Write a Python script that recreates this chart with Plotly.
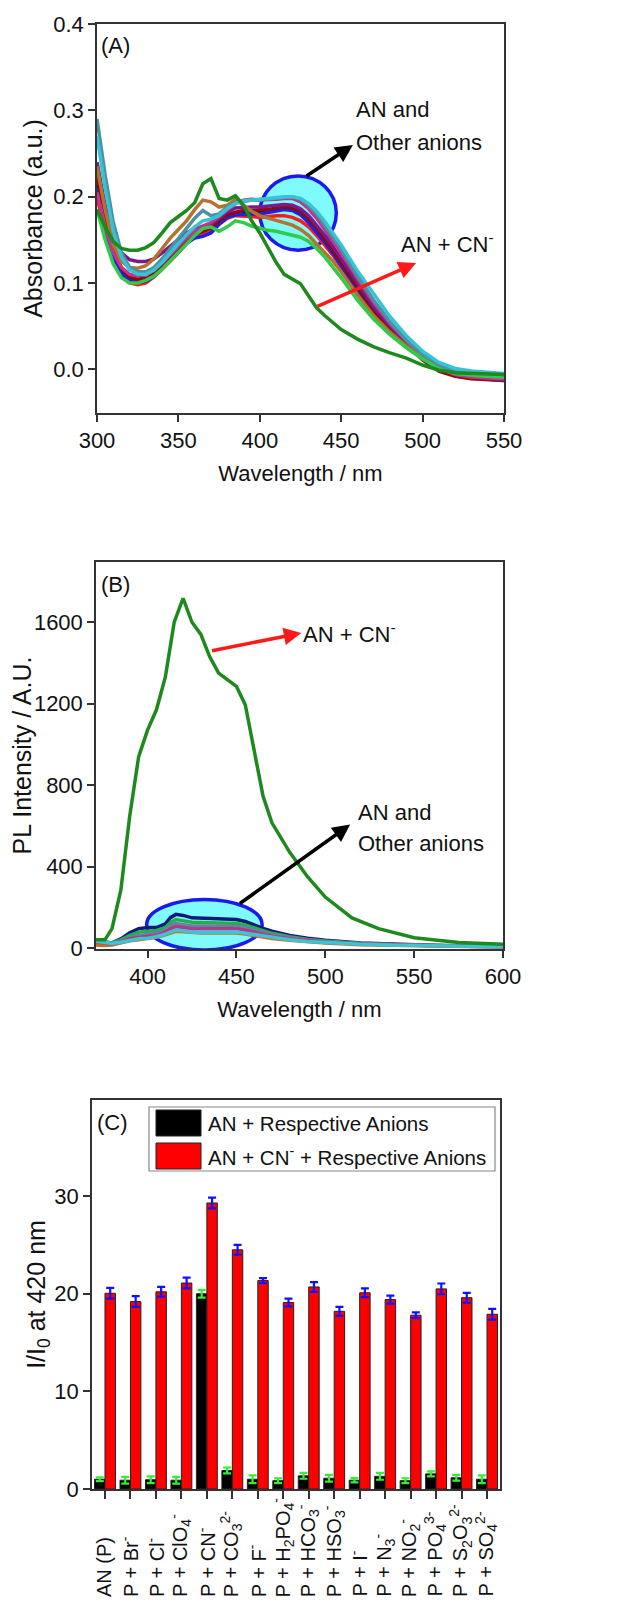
import re
import plotly.graph_objects as go

# page body has an 8px margin: figure drawn at (8, 8) inside the 618x1603 window
OFF = 8
W, H = 618 - OFF, 1603 - OFF
def px(x):
    return (x - OFF) / W
def py(y):
    return 1 - (y - OFF) / H

FONT = "Liberation Sans, Arial, sans-serif"

# ---------------- Panel A : absorbance ----------------
wl_A = [300, 305, 310, 315, 320, 325, 330, 335, 340, 345, 350, 355, 360, 365, 370, 375, 380, 385, 390, 395,
        400, 405, 410, 415, 420, 425, 430, 435, 440, 445, 450, 460, 470, 480, 490, 500, 510, 520, 530, 540, 550]

abs_AN = [0.215, 0.17, 0.135, 0.115, 0.106, 0.104, 0.106, 0.112, 0.12, 0.128, 0.137, 0.147, 0.155, 0.158, 0.162,
          0.17, 0.177, 0.18, 0.181, 0.181, 0.182, 0.184, 0.186, 0.187, 0.186, 0.181, 0.172, 0.16, 0.148, 0.135,
          0.12, 0.092, 0.067, 0.046, 0.029, 0.013, 0.001, -0.006, -0.009, -0.011, -0.012]
abs_Br = [0.2, 0.158, 0.125, 0.108, 0.1, 0.098, 0.1, 0.107, 0.116, 0.125, 0.135, 0.146, 0.153, 0.156, 0.16,
          0.168, 0.175, 0.178, 0.178, 0.177, 0.176, 0.177, 0.178, 0.178, 0.176, 0.172, 0.165, 0.155, 0.144, 0.132,
          0.118, 0.09, 0.065, 0.044, 0.028, 0.012, 0.0, -0.007, -0.01, -0.012, -0.013]
abs_Cl = [0.21, 0.165, 0.13, 0.111, 0.103, 0.101, 0.102, 0.108, 0.117, 0.126, 0.136, 0.146, 0.152, 0.154, 0.158,
          0.168, 0.176, 0.179, 0.18, 0.18, 0.18, 0.182, 0.184, 0.185, 0.184, 0.179, 0.17, 0.159, 0.147, 0.134,
          0.12, 0.092, 0.066, 0.045, 0.029, 0.013, 0.001, -0.006, -0.009, -0.011, -0.012]
abs_ClO4 = [0.225, 0.175, 0.138, 0.117, 0.107, 0.104, 0.105, 0.111, 0.12, 0.129, 0.139, 0.149, 0.156, 0.16, 0.164,
            0.172, 0.179, 0.182, 0.184, 0.184, 0.184, 0.185, 0.187, 0.188, 0.187, 0.183, 0.175, 0.164, 0.151, 0.138,
            0.124, 0.095, 0.068, 0.046, 0.028, 0.011, -0.002, -0.008, -0.011, -0.012, -0.013]
abs_F = [0.24, 0.19, 0.155, 0.135, 0.127, 0.125, 0.125, 0.128, 0.135, 0.143, 0.15, 0.158, 0.163, 0.165, 0.168,
         0.175, 0.182, 0.187, 0.188, 0.188, 0.188, 0.189, 0.19, 0.191, 0.19, 0.186, 0.178, 0.167, 0.155, 0.142,
         0.128, 0.099, 0.072, 0.05, 0.031, 0.014, 0.001, -0.006, -0.009, -0.011, -0.012]
abs_H2PO4 = [0.205, 0.165, 0.135, 0.118, 0.11, 0.108, 0.109, 0.115, 0.123, 0.133, 0.143, 0.152, 0.16, 0.166, 0.17,
             0.177, 0.185, 0.192, 0.196, 0.197, 0.196, 0.196, 0.197, 0.198, 0.198, 0.194, 0.186, 0.175, 0.162, 0.149,
             0.135, 0.105, 0.077, 0.053, 0.033, 0.015, 0.001, -0.006, -0.009, -0.01, -0.011]
abs_CO3 = [0.235, 0.185, 0.145, 0.125, 0.118, 0.117, 0.12, 0.128, 0.14, 0.152, 0.162, 0.172, 0.185, 0.196, 0.194,
           0.188, 0.19, 0.197, 0.19, 0.183, 0.178, 0.175, 0.172, 0.17, 0.167, 0.162, 0.155, 0.145, 0.135, 0.125,
           0.113, 0.086, 0.062, 0.043, 0.027, 0.013, 0.002, -0.004, -0.007, -0.008, -0.009]
abs_I = [0.185, 0.15, 0.122, 0.106, 0.1, 0.1, 0.103, 0.108, 0.116, 0.126, 0.136, 0.146, 0.155, 0.163, 0.165,
         0.16, 0.165, 0.172, 0.17, 0.166, 0.163, 0.161, 0.16, 0.158, 0.156, 0.153, 0.148, 0.14, 0.13, 0.118,
         0.106, 0.08, 0.058, 0.04, 0.025, 0.012, 0.001, -0.005, -0.007, -0.008, -0.009]
abs_HCO3 = [0.29, 0.225, 0.17, 0.135, 0.118, 0.113, 0.113, 0.118, 0.128, 0.14, 0.152, 0.163, 0.175, 0.184, 0.178,
            0.18, 0.188, 0.193, 0.195, 0.196, 0.196, 0.197, 0.198, 0.2, 0.2, 0.197, 0.19, 0.18, 0.167, 0.153,
            0.139, 0.108, 0.08, 0.055, 0.034, 0.017, 0.005, -0.002, -0.004, -0.005, -0.006]
abs_HSO3 = [0.27, 0.21, 0.16, 0.13, 0.115, 0.11, 0.11, 0.115, 0.124, 0.135, 0.146, 0.156, 0.165, 0.172, 0.174,
            0.178, 0.186, 0.192, 0.195, 0.196, 0.197, 0.198, 0.199, 0.2, 0.2, 0.198, 0.192, 0.183, 0.171, 0.158,
            0.144, 0.114, 0.087, 0.061, 0.039, 0.021, 0.008, 0.001, -0.002, -0.003, -0.005]
abs_CN = [0.185, 0.165, 0.148, 0.14, 0.138, 0.138, 0.141, 0.147, 0.158, 0.17, 0.177, 0.184, 0.193, 0.215, 0.221,
          0.198, 0.196, 0.201, 0.19, 0.172, 0.158, 0.14, 0.124, 0.11, 0.104, 0.099, 0.085, 0.071, 0.062, 0.054,
          0.046, 0.035, 0.026, 0.019, 0.013, 0.005, -0.001, -0.004, -0.005, -0.005, -0.006]

A_series = [
    ("AN", abs_AN, "#111111"),
    ("Br", abs_Br, "#ff1a1a"),
    ("Cl", abs_Cl, "#2020e0"),
    ("ClO4", abs_ClO4, "#8b0a0a"),
    ("F", abs_F, "#7a1a8c"),
    ("H2PO4", abs_H2PO4, "#c2348f"),
    ("CO3", abs_CO3, "#b5722e"),
    ("I", abs_I, "#2ecc4a"),
    ("HCO3", abs_HCO3, "#4a92a4"),
    ("HSO3", abs_HSO3, "#36c4d4"),
    ("CN", abs_CN, "#1e8a1e"),
]

# ---------------- Panel B : PL ----------------
wl_B_CN = [370, 376, 380, 385, 390, 395, 400, 405, 410, 415, 420, 425, 430, 435, 440, 450, 455, 465, 470, 480,
           490, 500, 515, 530, 550, 575, 600]
pl_CN = [40, 40, 95, 285, 650, 940, 1070, 1170, 1330, 1600, 1718, 1600, 1540, 1430, 1350, 1285, 1195, 745, 615,
         470, 350, 250, 148, 95, 50, 27, 18]

wl_B = [370, 375, 380, 385, 390, 395, 400, 405, 410, 413, 416, 420, 425, 430, 440, 450, 455, 460, 465, 470,
        480, 490, 500, 520, 540, 560, 580, 600]
pl_navy = [40, 30, 25, 45, 75, 95, 100, 100, 118, 150, 165, 160, 148, 146, 143, 140, 130, 112, 96, 82,
           62, 48, 38, 25, 18, 13, 10, 8]
pl_green = [38, 32, 25, 40, 62, 78, 82, 86, 100, 125, 140, 135, 126, 125, 122, 120, 112, 98, 85, 72,
            55, 42, 34, 22, 16, 12, 9, 7]
pl_slate = [32, 28, 22, 35, 50, 62, 66, 72, 88, 110, 120, 115, 108, 108, 108, 106, 98, 86, 76, 65,
            50, 39, 31, 21, 15, 11, 9, 7]
pl_magenta = [30, 25, 20, 30, 45, 52, 55, 62, 78, 95, 105, 100, 95, 95, 96, 95, 88, 78, 68, 58,
              45, 35, 28, 19, 14, 10, 8, 6]
pl_orange = [15, 12, 15, 25, 35, 40, 45, 52, 65, 75, 82, 80, 75, 74, 75, 74, 68, 60, 54, 47,
             38, 30, 24, 16, 12, 9, 7, 5]
pl_cyan = [35, 30, 22, 28, 38, 45, 48, 55, 68, 80, 88, 85, 78, 76, 78, 78, 72, 65, 58, 50,
           40, 32, 26, 18, 13, 10, 8, 6]

B_series = [
    ("navy", pl_navy, "#101a78"),
    ("green", pl_green, "#22b04a"),
    ("slate", pl_slate, "#6a7fa8"),
    ("orange", pl_orange, "#d2691e"),
    ("magenta", pl_magenta, "#b03a8a"),
    ("cyan", pl_cyan, "#3cc4d0"),
]

# ---------------- Panel C : bars ----------------
cat_keys = ["AN (P)", "Br", "Cl", "ClO4", "CN", "CO3", "F", "H2PO4", "HCO3", "HSO3", "I", "N3", "NO2",
            "PO4", "S2O3", "SO4"]
cat_labels = ["AN (P)", "P + Br<sup>-</sup>", "P + Cl<sup>-</sup>", "P + ClO<sub>4</sub><sup>-</sup>",
              "P + CN<sup>-</sup>", "P + CO<sub>3</sub><sup>2-</sup>", "P + F<sup>-</sup>",
              "P + H<sub>2</sub>PO<sub>4</sub><sup>-</sup>", "P + HCO<sub>3</sub><sup>-</sup>",
              "P + HSO<sub>3</sub><sup>-</sup>", "P + I<sup>-</sup>", "P + N<sub>3</sub><sup>-</sup>",
              "P + NO<sub>2</sub><sup>-</sup>", "P + PO<sub>4</sub><sup>3-</sup>",
              "P + S<sub>2</sub>O<sub>3</sub><sup>2-</sup>", "P + SO<sub>4</sub><sup>2-</sup>"]
ratio_anion = [1.0, 0.9, 0.95, 0.9, 20.0, 1.9, 1.0, 0.85, 1.35, 1.1, 0.9, 1.3, 0.85, 1.55, 1.15, 1.0]
err_anion = [0.2, 0.35, 0.35, 0.35, 0.4, 0.3, 0.4, 0.25, 0.3, 0.35, 0.22, 0.35, 0.25, 0.25, 0.3, 0.4]
ratio_cn_anion = [20.05, 19.2, 20.2, 21.1, 29.3, 24.5, 21.35, 19.1, 20.7, 18.2, 20.1, 19.4, 17.8, 20.5, 19.6, 17.9]
err_cn_anion = [0.55, 0.55, 0.5, 0.55, 0.55, 0.5, 0.25, 0.4, 0.5, 0.45, 0.45, 0.4, 0.3, 0.55, 0.5, 0.55]

fig = go.Figure()

for name, ys, col in A_series:
    fig.add_trace(go.Scatter(x=wl_A, y=ys, mode="lines", name=name, showlegend=False,
                             line=dict(color=col, width=3.5), xaxis="x", yaxis="y"))

for name, ys, col in B_series:
    fig.add_trace(go.Scatter(x=wl_B, y=ys, mode="lines", name=name, showlegend=False,
                             line=dict(color=col, width=3.5), xaxis="x2", yaxis="y2"))
fig.add_trace(go.Scatter(x=wl_B_CN, y=pl_CN, mode="lines", name="AN + CN", showlegend=False,
                         line=dict(color="#1e8a1e", width=3.5), xaxis="x2", yaxis="y2"))

fig.add_trace(go.Bar(x=cat_keys, y=ratio_anion, name="AN + Respective Anions", showlegend=False,
                     marker=dict(color="#000000", line=dict(color="#222222", width=1)),
                     error_y=dict(type="data", array=err_anion, color="#33ee33", thickness=2.2, width=4),
                     xaxis="x3", yaxis="y3"))
fig.add_trace(go.Bar(x=cat_keys, y=ratio_cn_anion, name="AN + CN- + Respective Anions", showlegend=False,
                     marker=dict(color="#ff0000", line=dict(color="#222222", width=1)),
                     error_y=dict(type="data", array=err_cn_anion, color="#1010ff", thickness=2.2, width=4),
                     xaxis="x3", yaxis="y3"))

AX = dict(showline=True, linecolor="#333333", linewidth=1.5, mirror=True, ticks="outside", ticklen=7,
          tickwidth=1.5, tickcolor="#333333", showgrid=False, zeroline=False, automargin=False,
          tickfont=dict(size=22, color="#111111", family=FONT))

fig.update_layout(
    template="none",
    width=W, height=H, margin=dict(l=0, r=0, t=0, b=0, autoexpand=False),
    paper_bgcolor="white", plot_bgcolor="white",
    font=dict(family=FONT, color="#111111"),
    bargap=0.18, bargroupgap=0.0, barmode="group", showlegend=False,
    xaxis=dict(AX, domain=[px(97), px(504)], range=[300, 550], anchor="y",
               tickvals=[300, 350, 400, 450, 500, 550],
               title=dict(text="Wavelength / nm", font=dict(size=22), standoff=13)),
    yaxis=dict(AX, domain=[py(413), py(24)], range=[-0.0506, 0.4], anchor="x",
               tickvals=[0, 0.1, 0.2, 0.3, 0.4], tickformat=".1f",
               title=dict(text="Absorbance (a.u.)", font=dict(size=25), standoff=4)),
    xaxis2=dict(AX, domain=[px(96), px(503)], range=[371, 600], anchor="y2",
                tickvals=[400, 450, 500, 550, 600],
                title=dict(text="Wavelength / nm", font=dict(size=22), standoff=13)),
    yaxis2=dict(AX, domain=[py(949), py(562)], range=[-5, 1896], anchor="x2",
                tickvals=[0, 400, 800, 1200, 1600],
                title=dict(text="PL Intensity / A.U.", font=dict(size=25), standoff=9)),
    xaxis3=dict(AX, domain=[px(92), px(500)], range=[-0.51, 15.51], anchor="y3",
                type="category", showticklabels=False, ticklen=8),
    yaxis3=dict(AX, domain=[py(1489), py(1100)], range=[0, 39.85], anchor="x3",
                tickvals=[0, 10, 20, 30],
                title=dict(text="I/I<sub>0</sub> at 420 nm", font=dict(size=25), standoff=1)),
)

# ellipses
fig.add_shape(type="circle", xref="x", yref="y", x0=400.0, x1=447.0, y0=0.138, y1=0.224,
              fillcolor="#80fbfb", line=dict(color="#1a1aee", width=3.5), layer="below")
fig.add_shape(type="circle", xref="x2", yref="y2", x0=399.5, x1=464.5, y0=-10, y1=238,
              fillcolor="#80fbfb", line=dict(color="#1a1aee", width=3.5), layer="below")

ann = []
def arrow(xr, yr, hx, hy, tx, ty, col):
    ann.append(dict(x=hx, y=hy, ax=tx, ay=ty, xref=xr, yref=yr, axref=xr, ayref=yr, text="",
                    showarrow=True, arrowhead=2, arrowsize=1, arrowwidth=3.5, arrowcolor=col))

def label(xr, yr, x, y, text, size=22, xanchor="left", yanchor="middle"):
    ann.append(dict(x=x, y=y, xref=xr, yref=yr, text=text, showarrow=False, xanchor=xanchor,
                    yanchor=yanchor, font=dict(size=size, color="#111111", family=FONT)))

# Panel A
arrow("x", "y", 457.2, 0.2599, 427.8, 0.2228, "#000000")
arrow("x", "y", 496.0, 0.1232, 434.5, 0.0722, "#ff1a1a")
label("x", "y", 458.0, 0.3005, "AN and")
label("x", "y", 458.0, 0.2622, "Other anions")
label("x", "y", 485.5, 0.1464, "AN + CN<sup>-</sup>")
label("paper", "paper", px(99), py(46), "(A)")

# Panel B
arrow("x2", "y2", 486.5, 1547, 435.4, 1459, "#ff1a1a")
arrow("x2", "y2", 514.0, 606, 451.1, 213, "#000000")
label("x2", "y2", 486.5, 1547, "AN + CN<sup>-</sup>")
label("x2", "y2", 517.5, 664, "AN and")
label("x2", "y2", 517.5, 513, "Other anions")
label("paper", "paper", px(99), py(584), "(B)")

# Panel C category labels (rotated, bottom-aligned)
CW = {"A": .667, "N": .722, " ": .278, "(": .333, ")": .333, "P": .667, "+": .584, "B": .667, "r": .333,
      "-": .333, "C": .722, "l": .222, "O": .778, "F": .611, "H": .722, "S": .667, "I": .278}
def text_w(s, size):
    tot = 0.0
    for part in re.split(r"(<su[bp]>.*?</su[bp]>)", s):
        if part.startswith("<su"):
            inner = re.sub(r"</?su[bp]>", "", part)
            tot += sum(CW.get(c, .556) for c in inner) * 0.7
        else:
            tot += sum(CW.get(c, .556) for c in part)
    return tot * size

LBL = 20
for k, t in zip(cat_keys, cat_labels):
    w = text_w(t, LBL)
    ann.append(dict(x=k, y=py(1597 - w / 2), xref="x3", yref="paper", text=t, showarrow=False, textangle=-90,
                    xanchor="center", yanchor="middle", xshift=-1,
                    font=dict(size=LBL, color="#111111", family=FONT)))

label("paper", "paper", px(95), py(1122), "(C)")
# custom legend for panel C
fig.add_shape(type="rect", xref="paper", yref="paper", x0=px(149), x1=px(495), y0=py(1171), y1=py(1107),
              line=dict(color="#888888", width=1.2), fillcolor="white")
fig.add_shape(type="rect", xref="paper", yref="paper", x0=px(156), x1=px(201), y0=py(1136), y1=py(1110),
              line=dict(color="#222222", width=1), fillcolor="#000000")
fig.add_shape(type="rect", xref="paper", yref="paper", x0=px(156), x1=px(201), y0=py(1169), y1=py(1143),
              line=dict(color="#222222", width=1), fillcolor="#ff0000")
label("paper", "paper", px(206), py(1123), "AN + Respective Anions", size=20.5)
label("paper", "paper", px(206), py(1156), "AN + CN<sup>-</sup> + Respective Anions", size=20.5)

fig.update_layout(annotations=ann)
fig.write_html("out.html")
